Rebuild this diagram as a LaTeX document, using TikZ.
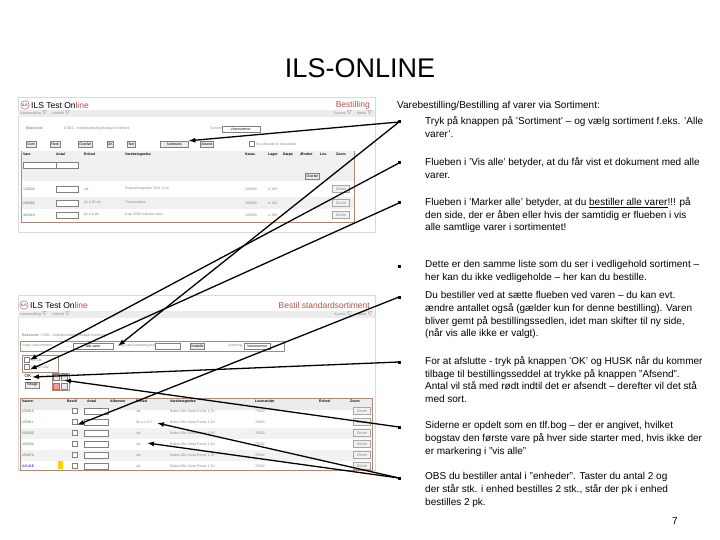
\documentclass[tikz,border=0pt]{standalone}
\usepackage{fontspec}
\setmainfont{Liberation Sans}
\usetikzlibrary{arrows.meta}
\definecolor{ilsred}{HTML}{B5524A}
\definecolor{frame}{HTML}{B08878}
\definecolor{grn}{HTML}{3A8A3A}
\definecolor{gtxt}{HTML}{8A8A8A}
\tikzset{
  body/.style={anchor=north west,align=left,inner sep=0pt,font=\fontsize{10}{12.8}\selectfont},
  bul/.style={fill=black,minimum size=3pt,inner sep=0pt},
  arr/.style={-{Latex[length=7pt,width=5pt]},line width=1.3pt},
  tiny/.style={font=\fontsize{3.5}{4}\selectfont,text=gtxt,inner sep=0pt,anchor=west},
  btn/.style={draw=gray,fill=gray!15,minimum height=6pt,inner sep=0.5pt,font=\fontsize{3.5}{4}\selectfont},
  zoombtn/.style={draw=gray!70,fill=gray!10,minimum width=17pt,minimum height=7pt,inner sep=0pt,font=\fontsize{4}{4}\selectfont,text=gtxt},
  chk/.style={draw=gray,fill=white,minimum size=5pt,inner sep=0pt},
  fld/.style={draw=gray,fill=white,minimum height=6pt,inner sep=0pt}
}
\begin{document}
\begin{tikzpicture}[x=1pt,y=-1pt]
\useasboundingbox (0,0) rectangle (720,540);
\fill[white] (0,0) rectangle (720,540);
\node[font=\fontsize{27}{30}\selectfont] (title) at (360,68) {ILS-ONLINE};

% ---------- screenshot 1 ----------
\draw[gray!30,fill=white] (18,97) rectangle (375,232);
\node[draw=ilsred,circle,inner sep=1pt,font=\fontsize{3.5}{4}\selectfont] (lg1) at (25,105) {ILS};
\node[anchor=west,inner sep=0pt,font=\fontsize{8.5}{9}\selectfont] (t1) at (31,105) {ILS Test On\textcolor{ilsred}{line}};
\node[anchor=east,inner sep=0pt,text=ilsred,font=\fontsize{8.5}{9}\selectfont] (b1) at (370,105) {Bestilling};
\fill[gray!15] (18,110) rectangle (375,117);
\node[tiny] (m1) at (20,113.5) {Varebestilling $\nabla$ \quad Udskrift $\nabla$};
\node[tiny,anchor=east] (m1r) at (373,113.5) {System $\nabla$ \quad Hjælp $\nabla$};
\node[tiny] (r1) at (26,129) {\textbf{Rekvirent:} \hspace{18pt} 17602 - Indkøbsafdeling Budget Sortiment};
\node[tiny] (s1) at (210,129) {Sortering};
\node[fld,minimum width=38pt,anchor=west,font=\fontsize{3.5}{4}\selectfont] (dd1) at (222,129) {Varenummer \hfill};
\node[btn,anchor=west] (k1) at (26,144) {\,Gem\,};
\node[btn,anchor=west] (k2) at (50,144) {\,Hent\,};
\node[btn,anchor=west] (k3) at (78,144) {\,Overfør\,};
\node[btn,anchor=west] (k4) at (107,144) {OK};
\node[btn,anchor=west] (k5) at (127,144) {\,Slet\,};
\node[btn,anchor=west,minimum width=28pt] (sort) at (160,144) {Sortiment};
\node[btn,anchor=west] (k7) at (200,144) {\,Afsend\,};
\node[chk,anchor=west] (c1) at (249,144) {};
\node[tiny] (c1t) at (256,144) {Vis afsendte til leverandør};
\draw[frame,line width=0.8pt,fill=white] (21,151) rectangle (354,222);
\fill[gray!12] (21.5,151.5) rectangle (353.5,181);
\fill[gray!12] (21.5,197) rectangle (353.5,209);
\foreach \x/\t in {23/Vare,56/Antal,84/Enhed,125/Varebetegnelse,245/Kataz.,268/Lager,283/Dæpe,300/Ændret,320/Lev.,336/Zoom}
  \node[tiny,anchor=north west,text=black] at (\x,153) {\textbf{\t}};
\node[fld,minimum width=36pt,anchor=west] (f1) at (23,165) {};
\node[fld,minimum width=22pt,anchor=west] (f2) at (56,165) {};
\node[btn,anchor=west] (ov) at (305,176) {\,Overfør\,};
\foreach \y/\n/\e/\d in {189/125530/stk/{Registreringsblok 20x1 5 cm},203/206085/{pk á 50 stk}/{Transportbox},215/405324/{pk á 6 stk}/{Kopi 2000 m/kuber tekst}}{
  \node[tiny,text=grn] at (23,\y) {\n};
  \node[fld,minimum width=22pt,anchor=west] at (56,\y) {};
  \node[tiny] at (84,\y) {\e};
  \node[tiny] at (125,\y) {\d};
  \node[tiny] at (245,\y) {109000};
  \node[tiny] at (268,\y) {A 300};
  \node[zoombtn] at (341,\y) {Zoom};
}

% ---------- screenshot 2 ----------
\draw[gray!30,fill=white] (18,295) rectangle (375,470);
\node[draw=ilsred,circle,inner sep=1pt,font=\fontsize{3.5}{4}\selectfont] (lg2) at (24,305) {ILS};
\node[anchor=west,inner sep=0pt,font=\fontsize{8.5}{9}\selectfont] (t2) at (30,305) {ILS Test On\textcolor{ilsred}{line}};
\node[anchor=east,inner sep=0pt,text=ilsred,font=\fontsize{8.5}{9}\selectfont] (b2) at (370,305) {Bestil standardsortiment};
\fill[gray!15] (18,311) rectangle (375,318);
\node[tiny] (m2) at (20,314.5) {Varebestilling $\nabla$ \quad Udskrift $\nabla$};
\node[tiny,anchor=east] (m2r) at (373,314.5) {System $\nabla$ \quad Hjælp $\nabla$};
\node[tiny] (r2) at (22,336) {\textbf{Rekvirent:} 17602 - Indkøbsafdeling Budget Sortiment};
\draw[frame,line width=0.7pt] (20,341) rectangle (284,351);
\node[tiny] (fl) at (22,346) {Vælg varesortiment};
\node[fld,minimum width=40pt,anchor=west,font=\fontsize{3.5}{4}\selectfont] (dd2) at (73,346) {Alle varer\hfill};
\node[tiny] (fl2) at (118,346) {Søg vare/varebetegnelse};
\node[fld,minimum width=25pt,anchor=west] (sg) at (155,346) {};
\node[btn,anchor=west] (hk) at (190,346) {\,Nulstille\,};
\node[tiny] (so2) at (228,346) {Sortering};
\node[fld,minimum width=26pt,anchor=west,font=\fontsize{3.5}{4}\selectfont] (dd3) at (244,346) {Varenummer};
\draw[frame,line width=0.7pt] (22,355) rectangle (58,372);
\node[chk] (visalle) at (27,360) {};
\node[tiny] at (31,360) {Vis alle};
\node[chk] (marker) at (27,367) {};
\node[tiny] at (31,367) {Marker alle};
\node[font=\fontsize{4.5}{5}\selectfont,inner sep=0.5pt] (ok) at (28,377) {\underline{OK}};
\node[btn] (tilbage) at (32,385) {\,Tilbage\,};
\draw[frame,line width=0.6pt] (52,373) rectangle (69,390);
\node[btn,minimum width=6pt] (n1) at (56,377) {};
\node[btn,minimum width=6pt] (n2) at (64,377) {};
\node[btn,minimum width=6pt,fill=red!40] (n3) at (56,386) {};
\node[btn,minimum width=6pt] (n4) at (64,386) {};
\draw[frame,line width=0.8pt,fill=white] (20,398) rectangle (372,470);
\fill[gray!15] (20.5,398.5) rectangle (371.5,410);
\fill[gray!10] (20.5,427.5) rectangle (371.5,438.5);
\fill[gray!10] (20.5,449.5) rectangle (371.5,460.5);
\foreach \x/\t in {22/Varenr.,67/Bestil,87/Antal,110/Afbrevne,136/Enhed,170/Varebetegnelse,255/Leverandør,319/Enhed,350/Zoom}
  \node[tiny,anchor=north west,text=black] at (\x,400) {\textbf{\t}};
\foreach \y/\n/\c/\e in {411/{25001C}/grn/stk,422/{25001L}/grn/{Sk.4 x 0.5},433/{25003C}/grn/stk,444/{25004C}/grn/stk,455/{25007A}/grn/stk,466/{64141E}/blue/stk}{
  \node[tiny,text=\c] at (22,\y) {\n};
  \node[chk] at (75,\y) {};
  \node[fld,minimum width=24pt,anchor=west] at (84,\y) {};
  \node[tiny] at (136,\y) {\e};
  \node[tiny] at (170,\y) {Batteri Blix Varta Power 1,5V};
  \node[tiny] at (255,\y) {76052};
  \node[zoombtn] at (362,\y) {Zoom};
}
\fill[yellow!70!orange] (58,461) rectangle (63,469);
\coordinate (bestilchk) at (77,425);
\coordinate (enh1) at (157,423);
\coordinate (enh2) at (147,443);

% ---------- text column ----------
\node[body] (head) at (397,101) {Varebestilling/Bestilling af varer via Sortiment:};
\node[bul] (p1) at (399,122) {};
\node[body] (x1) at (425,116) {Tryk på knappen på ’Sortiment’ – og vælg sortiment f.eks. ’Alle\\varer’.};
\node[bul] (p2) at (399,163) {};
\node[body] (x2) at (425,157) {Flueben i ’Vis alle’ betyder, at du får vist et dokument med alle\\varer.};
\node[bul] (p3) at (399,203) {};
\node[body] (x3) at (425,197) {Flueben i ’Marker alle’ betyder, at du \underline{bestiller alle varer}!!! på\\den side, der er åben eller hvis der samtidig er flueben i vis\\alle samtlige varer i sortimentet!};
\node[bul] (p4) at (399,266) {};
\node[body] (x4) at (425,260) {Dette er den samme liste som du ser i vedligehold sortiment –\\her kan du ikke vedligeholde – her kan du bestille.};
\node[bul] (p5) at (399,297) {};
\node[body] (x5) at (425,291) {Du bestiller ved at sætte flueben ved varen – du kan evt.\\ændre antallet også (gælder kun for denne bestilling). Varen\\bliver gemt på bestillingssedlen, idet man skifter til ny side,\\(når vis alle ikke er valgt).};
\node[bul] (p6) at (399,362) {};
\node[body] (x6) at (425,356) {For at afslutte - tryk på knappen ’OK’ og HUSK når du kommer\\tilbage til bestillingsseddel at trykke på knappen ”Afsend”.\\Antal vil stå med rødt indtil det er afsendt – derefter vil det stå\\med sort.};
\node[bul] (p7) at (399,427) {};
\node[body] (x7) at (425,421) {Siderne er opdelt som en tlf.bog – der er angivet, hvilket\\bogstav den første vare på hver side starter med, hvis ikke der\\er markering i ”vis alle”};
\node[bul] (p8) at (399,478) {};
\node[body] (x8) at (425,472) {OBS du bestiller antal i ”enheder”. Taster du antal 2 og\\der står stk. i enhed bestilles 2 stk., står der pk i enhed\\bestilles 2 pk.};
\node[font=\fontsize{10}{10}\selectfont] (pg) at (675,521) {7};

% ---------- arrows ----------
\draw[arr] (p1.center) -- (sort.north east);
\draw[arr] (p1.center) -- (fl2.west);
\draw[arr] (p2.center) -- (visalle.east);
\draw[arr] (p3.center) -- (marker.south east);
\draw[arr] (p5.center) -- (bestilchk);
\draw[arr] (p6.center) -- (ok.east);
\draw[arr] (p7.center) -- (n2.south);
\draw[arr] (p8.center) -- (enh1);
\draw[arr] (p8.center) -- (enh2);
\end{tikzpicture}
\end{document}
